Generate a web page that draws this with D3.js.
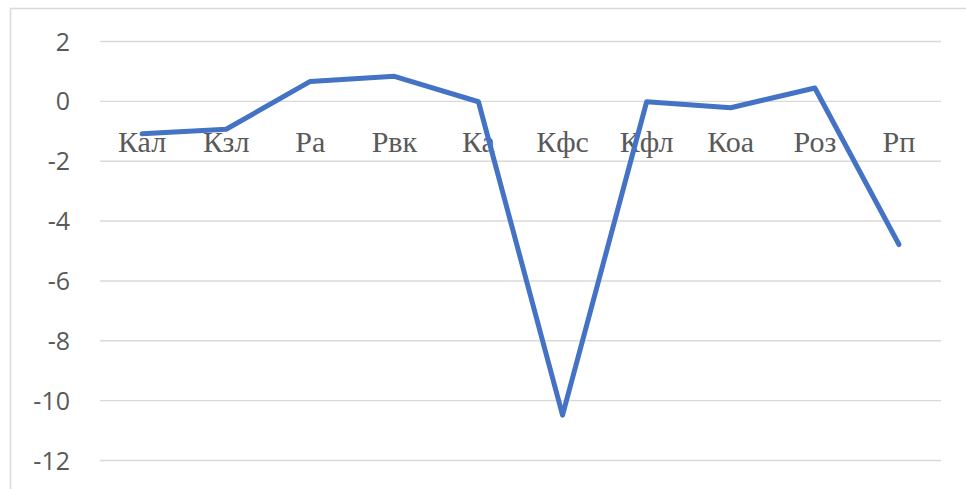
<!DOCTYPE html>
<html>
<head>
<meta charset="utf-8">
<script src="https://cdn.jsdelivr.net/npm/d3@7"></script>
<style>
  body { margin: 0; background: #fff; }
  svg { display: block; }
</style>
</head>
<body>
<svg id="chart" width="966" height="489"></svg>
<script>
// categories and values
const categories = ["Кал", "Кзл", "Ра", "Рвк", "Ка", "Кфс", "Кфл", "Коа", "Роз", "Рп"];
const values = [-1.1, -0.95, 0.65, 0.82, -0.03, -10.5, -0.03, -0.23, 0.43, -4.8];
const yTicks = [2, 0, -2, -4, -6, -8, -10, -12];

const svg = d3.select("#chart");
const plotLeft = 100, plotRight = 941, plotTop = 41, plotBottom = 460;

// chart border (only top + left visible in the crop)
svg.append("rect")
  .attr("x", 10.5).attr("y", 8.5)
  .attr("width", 1200).attr("height", 1200)
  .attr("fill", "none")
  .attr("stroke", "#d9d9d9")
  .attr("stroke-width", 1.5);

const x = d3.scaleBand()
  .domain(categories)
  .range([plotLeft, plotRight]);

const y = d3.scaleLinear()
  .domain([-12, 2])
  .range([plotBottom, plotTop]);

// y axis with gridlines
const yAxis = d3.axisLeft(y)
  .tickValues(yTicks)
  .tickSize(-(plotRight - plotLeft))
  .tickPadding(30)
  .tickFormat(d3.format("d"));

const gy = svg.append("g")
  .attr("transform", "translate(" + plotLeft + ",0)")
  .call(yAxis);
gy.select(".domain").remove();
gy.selectAll(".tick line")
  .attr("stroke", "#d9d9d9")
  .attr("stroke-width", 1.4);
gy.selectAll(".tick text")
  .attr("fill", "#595959")
  .attr("font-family", "'Open Sans', sans-serif")
  .attr("font-size", 25)
  .attr("dy", "0.36em")
  .text(d => d < 0 ? "-" + Math.abs(d) : d);

// category labels sit just under the zero line
svg.append("g")
  .selectAll("text")
  .data(categories)
  .join("text")
  .attr("x", d => x(d) + x.bandwidth() / 2)
  .attr("y", 152)
  .attr("text-anchor", "middle")
  .attr("font-family", "'Liberation Serif', 'Times New Roman', serif")
  .attr("font-size", 30)
  .attr("fill", "#595959")
  .text(d => d);

// the series line
const line = d3.line()
  .x((d, i) => x(categories[i]) + x.bandwidth() / 2)
  .y(d => y(d));

svg.append("path")
  .datum(values)
  .attr("d", line)
  .attr("fill", "none")
  .attr("stroke", "#4472c4")
  .attr("stroke-width", 5)
  .attr("stroke-linejoin", "round")
  .attr("stroke-linecap", "round");
</script>
</body>
</html>
